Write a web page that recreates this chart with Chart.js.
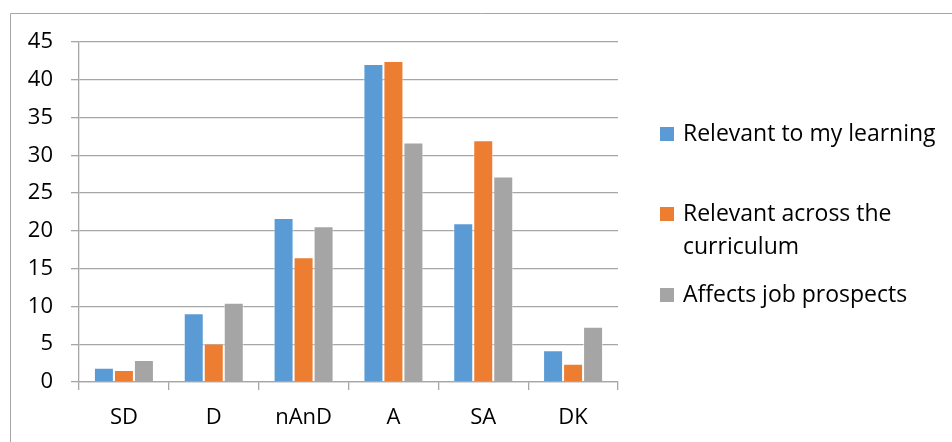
<!DOCTYPE html>
<html>
<head>
<meta charset="utf-8">
<script src="https://cdn.jsdelivr.net/npm/chart.js@4/dist/chart.umd.min.js"></script>
<style>
  html, body { margin: 0; padding: 0; background: #ffffff; }
  #wrap { width: 952px; height: 442px; position: relative; }
</style>
</head>
<body>
<div id="wrap"><canvas id="chart" width="952" height="442"></canvas></div>
<script>
// Response categories
const categories = ['SD', 'D', 'nAnD', 'A', 'SA', 'DK'];

// Series names
const seriesNames = [
  'Relevant to my learning',
  'Relevant across the curriculum',
  'Affects job prospects'
];

// Percentages per response
const relevantLearning   = [1.9, 9.1, 21.7, 42.1, 21.0, 4.2];
const relevantCurriculum = [1.6, 5.1, 16.5, 42.5, 32.0, 2.4];
const jobProspects       = [2.9, 10.5, 20.6, 31.7, 27.2, 7.3];

// Value axis ticks
const yTicks = [0, 5, 10, 15, 20, 25, 30, 35, 40, 45];

const seriesColors = ['#5b9bd5', '#ed7d31', '#a5a5a5'];
const FONT = '"Open Sans", "DejaVu Sans", sans-serif';
const FONT_SIZE = 22;
const LEGEND_FONT_SIZE = 23;

// Outer frame around the chart object
const framePlugin = {
  id: 'frame',
  beforeDraw(chart) {
    const ctx = chart.ctx;
    ctx.save();
    ctx.strokeStyle = '#a6a6a6';
    ctx.lineWidth = 1;
    ctx.beginPath();
    ctx.moveTo(10.5, 442);
    ctx.lineTo(10.5, 13.5);
    ctx.lineTo(952, 13.5);
    ctx.stroke();
    ctx.restore();
  }
};

// Legend on the right, with word-wrapped entries
const sideLegend = {
  id: 'sideLegend',
  afterDraw(chart, args, opts) {
    const ctx = chart.ctx;
    ctx.save();
    ctx.font = opts.fontSize + 'px ' + FONT;
    ctx.textBaseline = 'middle';
    ctx.textAlign = 'left';
    chart.data.datasets.forEach((ds, i) => {
      const cy = opts.itemY[i];
      ctx.fillStyle = ds.backgroundColor;
      ctx.fillRect(opts.boxX, cy - opts.boxSize / 2, opts.boxSize, opts.boxSize);
      // wrap the label by words to the available width
      const words = ds.label.split(' ');
      const lines = [];
      let cur = '';
      words.forEach(w => {
        const test = cur ? cur + ' ' + w : w;
        if (cur && ctx.measureText(test).width > opts.maxWidth) {
          lines.push(cur);
          cur = w;
        } else {
          cur = test;
        }
      });
      if (cur) lines.push(cur);
      ctx.fillStyle = '#000000';
      lines.forEach((ln, k) => {
        ctx.fillText(ln, opts.textX, cy + k * opts.lineHeight);
      });
    });
    ctx.restore();
  }
};

const datasets = [relevantLearning, relevantCurriculum, jobProspects].map((vals, i) => ({
  label: seriesNames[i],
  data: vals,
  backgroundColor: seriesColors[i],
  borderColor: 'rgba(255,255,255,0.55)',
  borderWidth: 1,
  borderSkipped: 'bottom',
  categoryPercentage: 0.668,
  barPercentage: 1.0
}));

new Chart(document.getElementById('chart'), {
  type: 'bar',
  data: { labels: categories, datasets },
  plugins: [framePlugin, sideLegend],
  options: {
    responsive: false,
    animation: false,
    devicePixelRatio: 1,
    layout: { padding: { top: 42, right: 334, left: 0, bottom: 0 } },
    plugins: {
      legend: { display: false },
      tooltip: { enabled: false },
      sideLegend: {
        fontSize: LEGEND_FONT_SIZE,
        boxX: 660,
        boxSize: 14,
        textX: 683,
        maxWidth: 262,
        lineHeight: 33,
        itemY: [134, 214, 295]
      }
    },
    scales: {
      x: {
        afterFit(scale) { scale.height = 60; },
        grid: {
          display: true,
          drawOnChartArea: false,
          drawTicks: true,
          tickLength: 8,
          color: '#a6a6a6',
          lineWidth: 1.3
        },
        border: { display: true, color: '#a6a6a6', width: 1.3 },
        ticks: {
          color: '#000000',
          padding: 15,
          font: { family: FONT, size: FONT_SIZE }
        }
      },
      y: {
        min: 0,
        max: 45,
        afterFit(scale) { scale.width = 79; },
        afterBuildTicks(scale) { scale.ticks = yTicks.map(v => ({ value: v })); },
        grid: {
          color: '#a6a6a6',
          lineWidth: 1.3,
          tickLength: 8
        },
        border: { display: true, color: '#a6a6a6', width: 1.3 },
        ticks: {
          color: '#000000',
          padding: 18,
          font: { family: FONT, size: FONT_SIZE }
        }
      }
    }
  }
});
</script>
</body>
</html>
